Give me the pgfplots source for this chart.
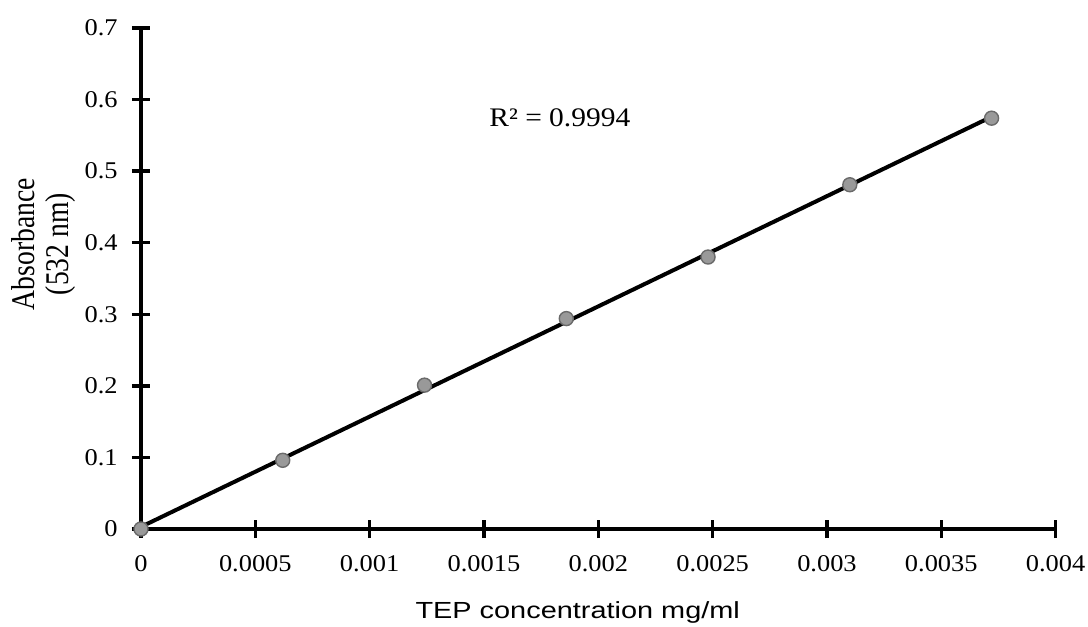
\documentclass[border=0pt]{standalone}
\usepackage{fontspec}
\setmainfont{Liberation Serif}[FakeStretch=1.1]
\newfontfamily\serifplain{Liberation Serif}
\newfontfamily\sansf{Liberation Sans}[FakeStretch=1.24]
\usepackage{pgfplots}
\pgfplotsset{compat=1.18}
\definecolor{mkfill}{HTML}{999999}
\definecolor{mkedge}{HTML}{6A6A6A}
\begin{document}
\fontsize{12}{14}\selectfont
\begin{tikzpicture}
\useasboundingbox (-70.5pt,-49pt) rectangle (473.5pt,264.5pt);
\begin{axis}[
  at={(0,0)}, anchor=south west,
  scale only axis, width=457.3pt, height=250.5pt,
  xmin=0, xmax=0.004, ymin=0, ymax=0.7,
  axis x line=bottom, axis y line=left,
  axis line style={line width=1.9pt, -, black},
  xtick={0,0.0005,0.001,0.0015,0.002,0.0025,0.003,0.0035,0.004},
  xticklabels={0,0.0005,0.001,0.0015,0.002,0.0025,0.003,0.0035,0.004},
  scaled x ticks=false,
  ytick={0,0.1,0.2,0.3,0.4,0.5,0.6,0.7},
  yticklabels={0,0.1,0.2,0.3,0.4,0.5,0.6,0.7},
  tick align=center, major tick length=9pt,
  tick style={line width=1.7pt, black},
  xticklabel style={anchor=base, yshift=-16.5pt, font=\fontsize{12}{14}\selectfont},
  yticklabel style={anchor=east, xshift=-3pt, font=\fontsize{12}{14}\selectfont},
  clip=false,
]
\addplot[only marks, mark=*, mark size=3.5pt,
  mark options={fill=mkfill, draw=mkedge, line width=0.7pt}]
  coordinates {
  (0,0) (0.00062,0.096) (0.00124,0.201) (0.00186,0.294)
  (0.00248,0.380) (0.0031,0.481) (0.00372,0.574)
  };
\addplot[black, line width=2pt] coordinates {(0,0.003) (0.00372,0.576)};
\node[anchor=base west, inner sep=0pt, font=\fontsize{13.4}{16}\selectfont]
  at (axis cs:0.001522,0.5628) {R² = 0.9994};
\node[anchor=base, inner sep=0pt, font=\sansf\fontsize{11.65}{14}\selectfont]
  at ([yshift=-44.5pt]axis cs:0.00191,0) {TEP concentration mg/ml};
\node[rotate=90, anchor=center, inner sep=0pt]
  at ([xshift=-48pt]axis cs:0,0.398)
  {\scalebox{1}[1.2]{\serifplain\fontsize{13.8}{14}\selectfont\begin{tabular}{@{}c@{}}Absorbance\\(532 nm)\end{tabular}}};
\end{axis}
\end{tikzpicture}
\end{document}
